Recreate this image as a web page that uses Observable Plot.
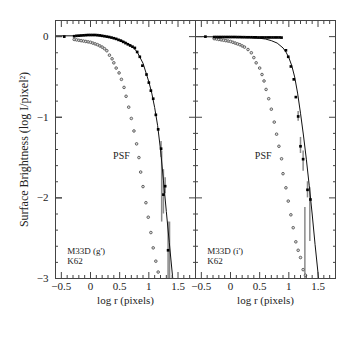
<!DOCTYPE html>
<html><head><meta charset="utf-8">
<script src="https://cdn.jsdelivr.net/npm/d3@7"></script>
<script src="https://cdn.jsdelivr.net/npm/@observablehq/plot@0.6"></script>
<style>body{margin:0;background:#fff} #chart{width:354px;height:354px}</style>
</head><body><div id="chart"></div><script>
// Panel keys
const panels = ["g", "i"];
const panelTitles = ["M33D (g')", "M33D (i')"];
const modelName = "K62";

// g' panel: observed profile (log r, log I)
const gObsR = [-0.45,-0.28,-0.24,-0.2,-0.16,-0.12,-0.08,-0.04,0,0.04,0.08,0.12,0.16,0.2,0.24,0.28,0.32,0.36,0.4,0.44,0.48,0.52,0.56,0.6,0.64,0.68,0.72,0.76,0.80,0.845,0.89,0.96,1.0,1.035,1.075,1.12,1.16,1.21,1.25,1.28,1.33];
const gObsV = [0.0,0.005,0.01,0.012,0.014,0.016,0.018,0.02,0.02,0.02,0.02,0.018,0.015,0.01,0.005,0,-0.005,-0.012,-0.02,-0.028,-0.04,-0.05,-0.065,-0.08,-0.095,-0.11,-0.125,-0.14,-0.19,-0.25,-0.36,-0.47,-0.57,-0.67,-0.77,-0.97,-1.15,-1.39,-1.96,-1.855,-2.65];
// g' error bars
const gErrR = [1.21,1.22,1.25,1.28,1.33,1.355];
const gErrLo = [-1.5,-2.3,-2.2,-1.95,-3.0,-3.0];
const gErrHi = [-1.3,-1.42,-1.65,-1.75,-2.3,-2.3];
// g' PSF
const gPsfR = [-0.28,-0.24,-0.2,-0.16,-0.12,-0.08,-0.04,0,0.04,0.08,0.12,0.16,0.2,0.24,0.28,0.325,0.37,0.40,0.44,0.49,0.53,0.575,0.61,0.655,0.70,0.745,0.79,0.83,0.86,0.90,0.95,0.99,1.035,1.075,1.12,1.16];
const gPsfV = [-0.035,-0.04,-0.045,-0.05,-0.055,-0.06,-0.065,-0.07,-0.08,-0.09,-0.1,-0.115,-0.13,-0.15,-0.175,-0.23,-0.275,-0.325,-0.39,-0.45,-0.53,-0.63,-0.74,-0.875,-1.015,-1.17,-1.33,-1.50,-1.68,-1.86,-2.06,-2.24,-2.43,-2.62,-2.785,-2.92];
// g' King 1962 model curve
const gModR = [-0.6,-0.3,0,0.3,0.5,0.6,0.7,0.8,0.9,1.0,1.05,1.1,1.15,1.2,1.25,1.3,1.35,1.41];
const gModV = [0.01,0.01,0.02,0.0,-0.04,-0.07,-0.11,-0.19,-0.33,-0.56,-0.70,-0.88,-1.10,-1.40,-1.78,-2.17,-2.55,-3.0];

// i' panel
const iObsR = [-0.43,-0.28,-0.24,-0.2,-0.16,-0.12,-0.08,-0.04,0,0.04,0.08,0.12,0.16,0.2,0.24,0.28,0.32,0.36,0.4,0.44,0.48,0.52,0.56,0.6,0.64,0.68,0.72,0.76,0.80,0.84,0.875,0.95,0.99,1.035,1.085,1.12,1.16,1.20,1.245,1.32,1.37];
const iObsV = [0.0,-0.005,-0.005,-0.005,-0.005,-0.005,-0.005,-0.005,-0.005,-0.005,-0.005,-0.006,-0.006,-0.007,-0.007,-0.008,-0.008,-0.008,-0.009,-0.009,-0.01,-0.01,-0.01,-0.01,-0.01,-0.01,-0.01,-0.01,-0.01,-0.01,-0.012,-0.17,-0.25,-0.37,-0.53,-0.75,-0.99,-1.36,-1.52,-1.9,-2.02];
const iErrR = [1.16,1.20,1.245,1.275,1.32,1.36];
const iErrLo = [-1.05,-1.45,-1.67,-3.0,-2.0,-2.54];
const iErrHi = [-0.93,-1.25,-1.42,-2.12,-1.8,-1.875];
const iPsfR = [-0.28,-0.24,-0.2,-0.16,-0.12,-0.08,-0.04,0,0.04,0.08,0.12,0.16,0.2,0.24,0.30,0.357,0.40,0.44,0.50,0.54,0.575,0.61,0.655,0.70,0.75,0.79,0.83,0.875,0.90,0.95,0.99,1.035,1.075,1.12,1.16,1.20,1.245,1.285];
const iPsfV = [-0.025,-0.03,-0.035,-0.04,-0.045,-0.05,-0.055,-0.06,-0.07,-0.08,-0.09,-0.1,-0.115,-0.13,-0.16,-0.2,-0.26,-0.325,-0.39,-0.47,-0.55,-0.655,-0.77,-0.90,-1.06,-1.21,-1.36,-1.515,-1.70,-1.875,-2.04,-2.21,-2.37,-2.545,-2.65,-2.74,-2.89,-2.96];
const iModR = [-0.6,0,0.3,0.5,0.6,0.7,0.8,0.9,0.95,1.0,1.05,1.1,1.15,1.2,1.25,1.3,1.35,1.4,1.45,1.51];
const iModV = [0,-0.005,-0.01,-0.02,-0.03,-0.05,-0.08,-0.14,-0.19,-0.26,-0.36,-0.50,-0.70,-0.95,-1.22,-1.52,-1.85,-2.2,-2.58,-3.0];

// Axis ticks
const xMajor = [-0.5,0,0.5,1,1.5];
const xMinor = [-0.6,-0.4,-0.3,-0.2,-0.1,0.1,0.2,0.3,0.4,0.6,0.7,0.8,0.9,1.1,1.2,1.3,1.4,1.6,1.7,1.8];
const yMajor = [0,-1,-2,-3];
const yMinor = [-0.2,-0.4,-0.6,-0.8,-1.2,-1.4,-1.6,-1.8,-2.2,-2.4,-2.6,-2.8];
const fmt = (d) => String(d).replace("-", "\u2212");
const blank = () => "";

// Build tables
const pts = (p, xs, ys) => xs.map((x, k) => ({panel: p, x, y: ys[k]}));
const errs = (p, xs, lo, hi) => xs.map((x, k) => ({panel: p, x, y1: lo[k], y2: hi[k]}));
const obs = [...pts("g", gObsR, gObsV), ...pts("i", iObsR, iObsV)];
const psf = [...pts("g", gPsfR, gPsfV), ...pts("i", iPsfR, iPsfV)];
const model = [...pts("g", gModR, gModV), ...pts("i", iModR, iModV)];
const err = [...errs("g", gErrR, gErrLo, gErrHi), ...errs("i", iErrR, iErrLo, iErrHi)];
const psfLabels = panels.map((p, k) => ({panel: p, x: [0.53, 0.56][k], y: -1.48, t: "PSF"}));
const nameLabels = panels.map((p, k) => ({panel: p, x: -0.4, y: -2.66, t: panelTitles[k]}));
const modLabels = panels.map((p) => ({panel: p, x: -0.4, y: -2.78, t: modelName}));

const ink = "#222222";
const axc = "#444444";
const chart = Plot.plot({
  width: 354, height: 320,
  marginLeft: 54, marginRight: 19, marginTop: 20, marginBottom: 42,
  style: {fontFamily: "Liberation Serif, serif", fontSize: "11px", background: "white", color: ink},
  fx: {domain: panels, axis: null, padding: 0},
  x: {domain: [-0.6, 1.8]},
  y: {domain: [-3, 0.2]},
  marks: [
    Plot.ruleX(err, {fx: "panel", x: "x", y1: "y1", y2: "y2", stroke: "#8a8a8a", strokeWidth: 1.5, clip: true}),
    Plot.line(model, {fx: "panel", x: "x", y: "y", stroke: "#111111", strokeWidth: 1, clip: true}),
    Plot.dot(psf, {fx: "panel", x: "x", y: "y", r: 1.3, stroke: "#555555", strokeWidth: 0.9, fill: "#dddddd"}),
    Plot.dot(obs, {fx: "panel", x: "x", y: "y", symbol: "square", r: 1.5, fill: "#000000", stroke: null}),
    Plot.text(psfLabels, {fx: "panel", x: "x", y: "y", text: "t", fontSize: 10, fill: ink}),
    Plot.text(nameLabels, {fx: "panel", x: "x", y: "y", text: "t", fontSize: 9, textAnchor: "start", fill: ink}),
    Plot.text(modLabels, {fx: "panel", x: "x", y: "y", text: "t", fontSize: 9, textAnchor: "start", fill: ink}),
    Plot.frame({stroke: axc}),
    Plot.axisX(xMajor, {anchor: "bottom", facetAnchor: null, tickSize: -6, tickPadding: 10, tickFormat: fmt, label: null, stroke: axc, fill: ink}),
    Plot.axisX(xMinor, {anchor: "bottom", facetAnchor: null, tickSize: -3, tickFormat: blank, label: null, stroke: axc}),
    Plot.axisX(xMajor, {anchor: "top", facetAnchor: null, tickSize: -6, tickFormat: blank, label: null, stroke: axc}),
    Plot.axisX(xMinor, {anchor: "top", facetAnchor: null, tickSize: -3, tickFormat: blank, label: null, stroke: axc}),
    Plot.axisY(yMajor, {anchor: "left", tickSize: -7, tickPadding: 14, tickFormat: fmt, label: null, stroke: axc, fill: ink}),
    Plot.axisY(yMajor, {anchor: "left", tickSize: 0, tickFormat: blank, label: "Surface Brightness (log I/pixel²)", labelAnchor: "center", labelArrow: "none", labelOffset: 36, fontSize: 12, fill: ink}),
    Plot.axisY(yMajor, {anchor: "left", facetAnchor: null, tickSize: -7, tickFormat: blank, label: null, stroke: axc}),
    Plot.axisY(yMinor, {anchor: "left", facetAnchor: null, tickSize: -3, tickFormat: blank, label: null, stroke: axc}),
    Plot.axisY(yMajor, {anchor: "right", facetAnchor: null, tickSize: -7, tickFormat: blank, label: null, stroke: axc}),
    Plot.axisY(yMinor, {anchor: "right", facetAnchor: null, tickSize: -3, tickFormat: blank, label: null, stroke: axc}),
    Plot.text(["log r (pixels)"], {frameAnchor: "bottom", dy: 25, fontSize: 11, fill: ink})
  ]
});
document.getElementById("chart").appendChild(chart);
</script></body></html>
